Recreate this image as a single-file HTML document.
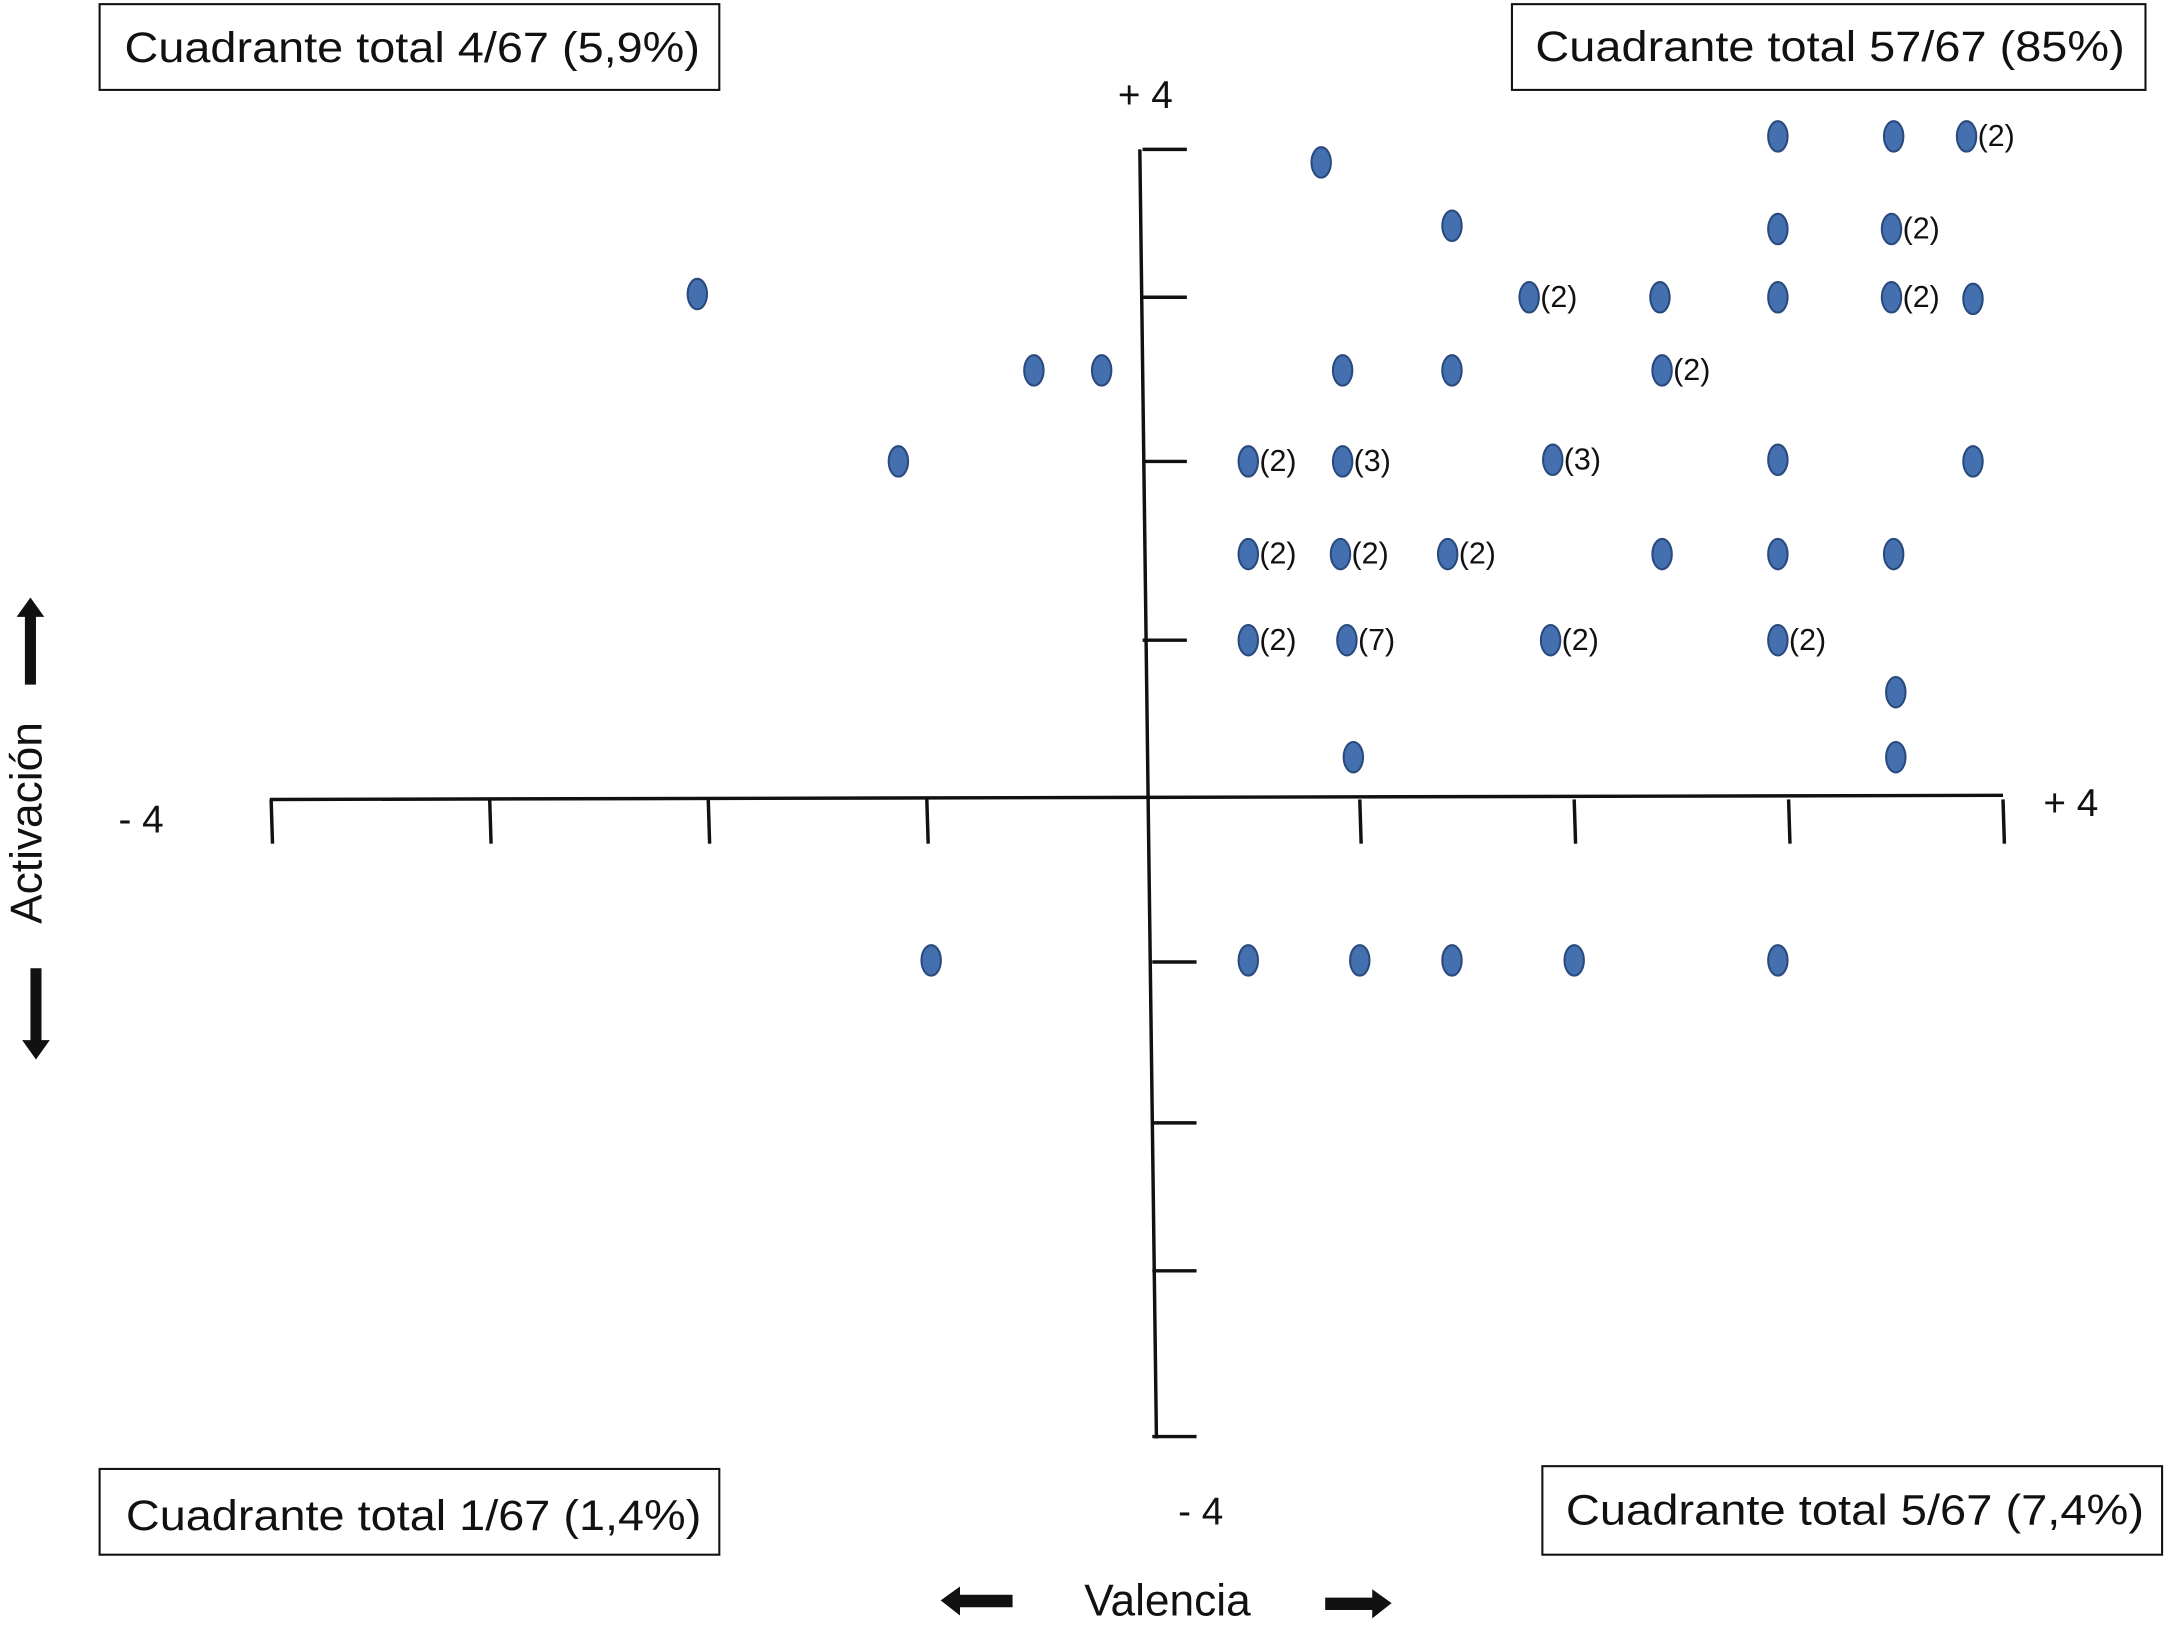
<!DOCTYPE html>
<html><head><meta charset="utf-8"><style>
html,body{margin:0;padding:0;background:#fff}
svg{display:block}
text{font-family:"Liberation Sans",sans-serif;fill:#111}
</style></head><body>
<svg width="2169" height="1628" viewBox="0 0 1568 1177" preserveAspectRatio="none" xmlns="http://www.w3.org/2000/svg">
<g id="frame" stroke="#111" stroke-width="2.5" fill="none">
  <line x1="195" y1="578" x2="1448" y2="575"/>
  <line x1="824" y1="108" x2="830" y2="578"/>
  <line x1="830" y1="578" x2="836" y2="1040"/>
</g>
<g id="ticks" stroke="#111" stroke-width="2.5"></g>
<g>
  <rect x="72" y="3" width="448" height="62" fill="#fff" stroke="#111" stroke-width="1.5"/>
  <text x="90" y="45" font-size="31" textLength="416" lengthAdjust="spacingAndGlyphs">Cuadrante total 4/67 (5,9%)</text>
  <rect x="1093" y="3" width="458" height="62" fill="#fff" stroke="#111" stroke-width="1.5"/>
  <text x="1110" y="44" font-size="31" textLength="426" lengthAdjust="spacingAndGlyphs">Cuadrante total 57/67 (85%)</text>
  <rect x="72" y="1062" width="448" height="62" fill="#fff" stroke="#111" stroke-width="1.5"/>
  <text x="91" y="1106" font-size="31" textLength="416" lengthAdjust="spacingAndGlyphs">Cuadrante total 1/67 (1,4%)</text>
  <rect x="1115" y="1060" width="448" height="64" fill="#fff" stroke="#111" stroke-width="1.5"/>
  <text x="1132" y="1102" font-size="31" textLength="418" lengthAdjust="spacingAndGlyphs">Cuadrante total 5/67 (7,4%)</text>
</g>
<text x="828" y="78" font-size="28" text-anchor="middle">+ 4</text>
<text x="102" y="602" font-size="28" text-anchor="middle">- 4</text>
<text x="1497" y="590" font-size="28" text-anchor="middle">+ 4</text>
<text x="868" y="1102" font-size="28" text-anchor="middle">- 4</text>
<text x="844" y="1168" font-size="32" text-anchor="middle">Valencia</text>
<text transform="translate(30,595) rotate(-90)" font-size="32" text-anchor="middle">Activación</text>
<g fill="#111">
  <polygon points="680,1157 694,1147 694,1153 732,1153 732,1162 694,1162 694,1168"/>
  <polygon points="1006,1159 992,1149 992,1155 958,1155 958,1164 992,1164 992,1170"/>
  <polygon points="22,432 12,446 18,446 18,495 26,495 26,446 32,446"/>
  <polygon points="26,766 16,752 22,752 22,700 30,700 30,752 36,752"/>
</g>
<g id="points"></g>
</svg>
<script>
const xs=[0.82,2.95,3.49,3.83,1.43,2.95,3.48,-2.05,1.79,2.4,2.95,3.48,3.86,-0.51,-0.2,0.92,1.43,2.41,-1.13,0.48,0.92,1.9,2.95,3.86,0.48,0.91,1.41,2.41,2.95,3.49,0.48,0.94,1.89,2.95,3.5,0.97,3.5,-0.98,0.48,1.0,1.43,2.0,2.95];
const ys=[3.92,4.08,4.08,4.08,3.53,3.51,3.51,3.11,3.09,3.09,3.09,3.09,3.08,2.64,2.64,2.64,2.64,2.64,2.08,2.08,2.08,2.09,2.09,2.08,1.51,1.51,1.51,1.51,1.51,1.51,0.98,0.98,0.98,0.98,0.66,0.26,0.26,-0.99,-0.99,-0.99,-0.99,-0.99,-0.99];
const counts=["","","","(2)","","","(2)","","(2)","","","(2)","","","","","","(2)","","(2)"," (3)","(3)","","","(2)","(2)","(2)","","","","(2)","(7)","(2)","(2)","","","","","","","","",""];
const xTicks=[-4,-3,-2,-1,1,2,3,4];
const yTicks=[4,3.09,2.08,0.98,-1,-1.99,-2.9,-3.92];
function sx(v){return 828+v*(v<0?158:155);}
function sy(v){return 578-v*117.5;}
const NS="http://www.w3.org/2000/svg";
const tg=document.getElementById('ticks');
xTicks.forEach(t=>{const l=document.createElementNS(NS,'line');


l.setAttribute('x1',sx(t));l.setAttribute('x2',sx(t)+1);l.setAttribute('y1',578);l.setAttribute('y2',610);tg.appendChild(l);});
yTicks.forEach(t=>{const l=document.createElementNS(NS,'line');


const x0=t>0?826:833;
l.setAttribute('x1',x0);l.setAttribute('x2',x0+32);l.setAttribute('y1',sy(t));l.setAttribute('y2',sy(t));tg.appendChild(l);});
const pg=document.getElementById('points');
xs.forEach((x,i)=>{const e=document.createElementNS(NS,'ellipse');


e.setAttribute('cx',sx(x));e.setAttribute('cy',sy(ys[i]));e.setAttribute('rx',7);e.setAttribute('ry',11);
e.setAttribute('fill','#4470b0');e.setAttribute('stroke','#2a4a7e');e.setAttribute('stroke-width','1.5');pg.appendChild(e);
if(counts[i]){const t=document.createElementNS(NS,'text');


t.setAttribute('x',sx(x)+8);t.setAttribute('y',sy(ys[i])+7);t.setAttribute('font-size','22');t.textContent=counts[i];pg.appendChild(t);}
});
</script>
</body></html>
